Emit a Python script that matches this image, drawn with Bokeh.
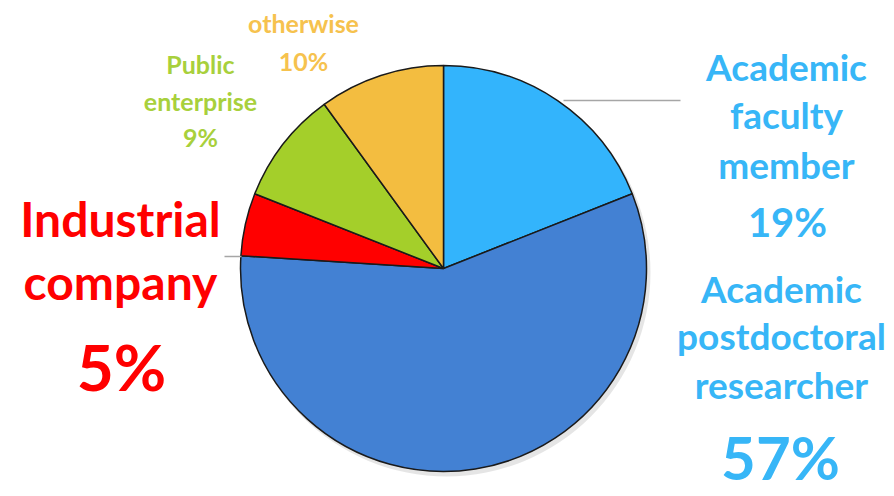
import math
from bokeh.plotting import figure
from bokeh.models import Range1d, ColumnDataSource
from bokeh.core.properties import value
from bokeh.embed import file_html
from bokeh.resources import INLINE

# ---- data ----
categories = ["Academic faculty member", "Academic postdoctoral researcher",
              "Industrial company", "Public enterprise", "otherwise"]
shares = [19, 57, 5, 9, 10]
pct_labels = ["19%", "57%", "5%", "9%", "10%"]
slice_colors = ["#33b4fc", "#4381d3", "#ff0000", "#a4cf2a", "#f3bd40"]
text_colors = ["#37b6f7", "#37b6f7", "#ff0000", "#a8d03c", "#f6c24e"]

W, H = 894, 496
def X(x):  # picture px -> data
    return x
def Y(y):
    return H - y

p = figure(width=W, height=H, output_backend="svg", toolbar_location=None,
           x_range=Range1d(0, W), y_range=Range1d(0, H), min_border=0)
p.axis.visible = False
p.grid.visible = False
p.outline_line_color = None
p.background_fill_color = "white"

cx, cy, r = X(443), Y(268), 203
total = sum(shares)
starts, ends = [], []
cum = 0
for s in shares:
    starts.append(math.pi / 2 - 2 * math.pi * cum / total)
    cum += s
    ends.append(math.pi / 2 - 2 * math.pi * cum / total)

# soft shadow
p.circle(x=[cx + 3], y=[cy - 4], radius=r + 1, fill_color="#000000", fill_alpha=0.10, line_color=None)

src = ColumnDataSource(dict(start=starts, end=ends, color=slice_colors))
p.wedge(x=cx, y=cy, radius=r, start_angle="start", end_angle="end", direction="clock",
        fill_color="color", line_color="#1a1a1a", line_width=1.5, source=src)

# leader lines
p.line(x=[X(563), X(680)], y=[Y(100), Y(100)], line_color="#a6a6a6", line_width=1.5)
p.line(x=[X(224), X(241)], y=[Y(256), Y(256)], line_color="#a6a6a6", line_width=1.5)

def label(lines, xs, ys, sizes, color):
    for t, x, y, s in zip(lines, xs, ys, sizes):
        p.text(x=[X(x)], y=[Y(y)], text=[t], text_color=color, text_font=value("Lato"),
               text_font_style="bold", text_font_size=f"{s}px",
               text_align="center", text_baseline="middle")

label(["Academic", "faculty", "member", pct_labels[0]],
      [786, 786, 786, 787], [66, 114, 164, 221], [37, 37, 37, 40], text_colors[0])
label(["Academic", "postdoctoral", "researcher", pct_labels[1]],
      [781, 781, 781, 780], [288, 335, 384, 456], [37, 37, 37, 60], text_colors[1])
label(["Industrial", "company", pct_labels[2]],
      [120, 120, 121], [218, 281, 366], [48, 48, 64], text_colors[2])
label(["Public", "enterprise", pct_labels[3]],
      [200, 200, 200], [63, 100, 136], [25, 25, 25], text_colors[3])
label(["otherwise", pct_labels[4]],
      [303, 303], [22, 60], [25, 25], text_colors[4])

open("out.html", "w").write(file_html(p, INLINE))
